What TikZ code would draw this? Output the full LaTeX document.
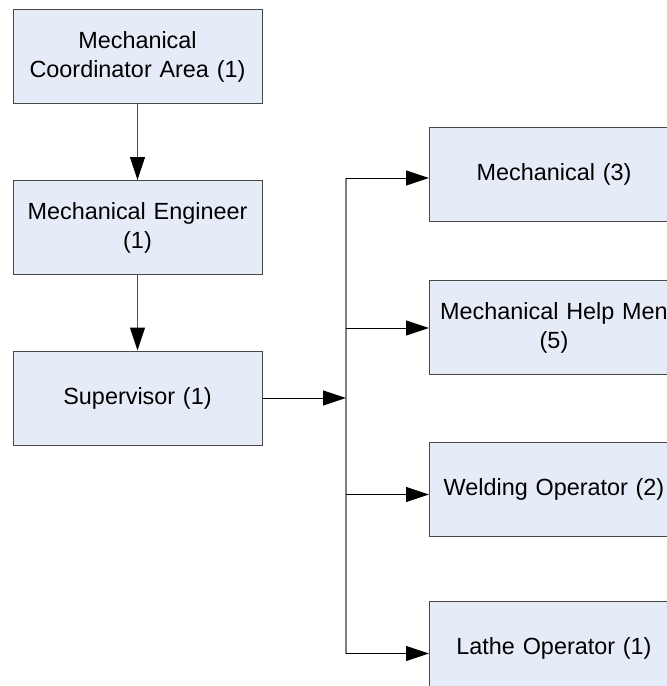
\documentclass[tikz,border=0pt]{standalone}
\usepackage{fontspec}
\setmainfont{Liberation Sans}
\usetikzlibrary{arrows.meta}
\definecolor{boxfill}{RGB}{230,236,247}
\definecolor{boxline}{RGB}{72,72,72}
\definecolor{busline}{RGB}{128,128,128}
\definecolor{stemline}{RGB}{80,80,80}
\tikzset{
  orgbox/.style={draw=boxline, line width=1pt, fill=boxfill, minimum width=249pt,
    minimum height=94pt, inner sep=0pt, align=center, text width=245pt,
    font=\fontsize{23.4}{29}\selectfont},
  link/.style={line width=1pt, draw=black, -{Triangle[length=23pt,width=15pt,color=black]}},
  vlink/.style={link, draw=stemline},
  busstyle/.style={line width=1.2pt, draw=busline}
}
\begin{document}
\begin{tikzpicture}[x=1pt,y=-1pt]
\useasboundingbox (0,0) rectangle (667,686);
\clip (0,0) rectangle (667,686);
\fill[white] (0,0) rectangle (667,686);

% left column
\node[orgbox] (coord) at (137.5,56.5) {Mechanical\\Coordinator Area (1)};
\node[orgbox] (eng)   at (137.5,227.5) {Mechanical Engineer\\(1)};
\node[orgbox] (sup)   at (137.5,398) {Supervisor (1)};

% right column
\node[orgbox] (mech)  at (554,174) {Mechanical (3)};
\node[orgbox] (help)  at (554,327.5) {Mechanical Help Men\\(5)};
\node[orgbox] (weld)  at (554,489) {Welding Operator (2)};
\node[orgbox] (lathe) at (554,648) {Lathe Operator (1)};

% junctions on the distribution bus
\coordinate (jsup)   at (346,398);
\coordinate (jmech)  at (346,178);
\coordinate (jhelp)  at (346,328);
\coordinate (jweld)  at (346,494.5);
\coordinate (jlathe) at (346,653.5);

\draw[vlink] (coord) -- (eng);
\draw[vlink] (eng) -- (sup);

\draw[busstyle] (jmech) -- (jlathe);
\draw[link] (sup.east |- jsup) -- (jsup);
\draw[link] (jmech)  -- (mech.west |- jmech);
\draw[link] (jhelp)  -- (help.west |- jhelp);
\draw[link] (jweld)  -- (weld.west |- jweld);
\draw[link] (jlathe) -- (lathe.west |- jlathe);
\end{tikzpicture}
\end{document}
